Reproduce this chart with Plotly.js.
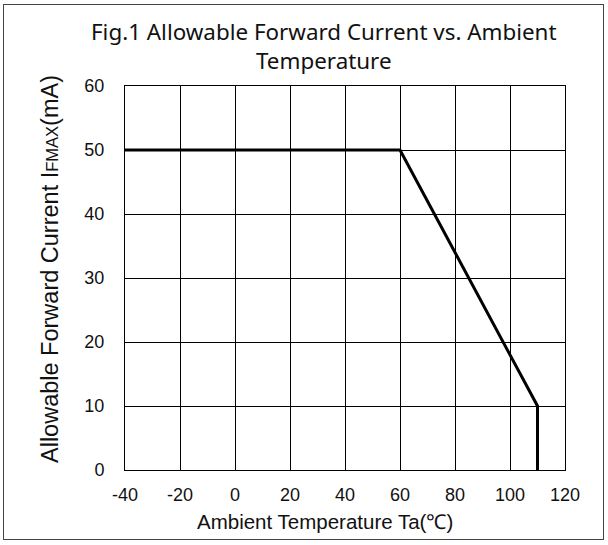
<!DOCTYPE html>
<html>
<head>
<meta charset="utf-8">
<script src="https://cdn.plot.ly/plotly-3.0.1.min.js"></script>
<style>
html,body{margin:0;padding:0;background:#fff;}
#frame{position:absolute;left:3px;top:4px;width:601px;height:536px;border:1px solid #444;box-sizing:border-box;}
#chart{position:absolute;left:0;top:0;width:608px;height:545px;}
</style>
</head>
<body>
<div id="frame"></div>
<div id="chart"></div>
<script>
const temperature = [-40, 60, 110, 110];
const currentMax = [50, 50, 10, 0];
const xTicks = [-40, -20, 0, 20, 40, 60, 80, 100, 120];
const yTicks = [0, 10, 20, 30, 40, 50, 60];
const chartTitle = 'Fig.1 Allowable Forward Current vs. Ambient<br>Temperature';
const xTitle = 'Ambient Temperature Ta(℃)';
const yTitle = 'Allowable Forward Current I<span style="font-size:16.5px">FMAX</span>(mA)';

const trace = {
  x: temperature,
  y: currentMax,
  type: 'scatter',
  mode: 'lines',
  line: {color: '#000', width: 3},
  hoverinfo: 'skip'
};

const PL = 125, PT = 86, PW = 440, PH = 384;
const px2x = p => (p - PL) / PW;
const px2y = p => (PT + PH - p) / PH;

const layout = {
  width: 608,
  height: 545,
  margin: {l: PL, r: 608 - PL - PW, t: PT, b: 545 - PT - PH},
  paper_bgcolor: 'rgba(0,0,0,0)',
  plot_bgcolor: '#fff',
  showlegend: false,
  xaxis: {
    range: [-40, 120],
    tickvals: xTicks,
    ticktext: xTicks.map(String),
    showgrid: true, gridcolor: '#000', gridwidth: 1,
    zeroline: false,
    showline: true, linecolor: '#000', linewidth: 1, mirror: true,
    ticks: '', ticklabelstandoff: 8,
    tickfont: {family: 'Liberation Sans, Arial, sans-serif', size: 18, color: '#111'}
  },
  yaxis: {
    range: [0, 60],
    tickvals: yTicks,
    ticktext: yTicks.map(String),
    showgrid: true, gridcolor: '#000', gridwidth: 1,
    zeroline: false,
    showline: true, linecolor: '#000', linewidth: 1, mirror: true,
    ticks: '', ticklabelstandoff: 16,
    tickfont: {family: 'Liberation Sans, Arial, sans-serif', size: 18, color: '#111'}
  },
  annotations: [
    {
      text: chartTitle,
      xref: 'paper', yref: 'paper',
      x: px2x(324), y: px2y(14), xanchor: 'center', yanchor: 'top',
      showarrow: false, align: 'center',
      font: {family: 'Noto Sans, sans-serif', size: 22.4, color: '#111'}
    },
    {
      text: xTitle,
      xref: 'paper', yref: 'paper',
      x: px2x(325), y: px2y(521), xanchor: 'center', yanchor: 'middle',
      showarrow: false,
      font: {family: 'Liberation Sans, Arial, sans-serif', size: 20.5, color: '#111'}
    },
    {
      text: yTitle,
      xref: 'paper', yref: 'paper',
      x: px2x(50), y: px2y(269), xanchor: 'center', yanchor: 'middle',
      textangle: -90, showarrow: false,
      font: {family: 'Liberation Sans, Arial, sans-serif', size: 23.5, color: '#111'}
    }
  ]
};

Plotly.newPlot('chart', [trace], layout, {displayModeBar: false, staticPlot: true});
</script>
</body>
</html>
